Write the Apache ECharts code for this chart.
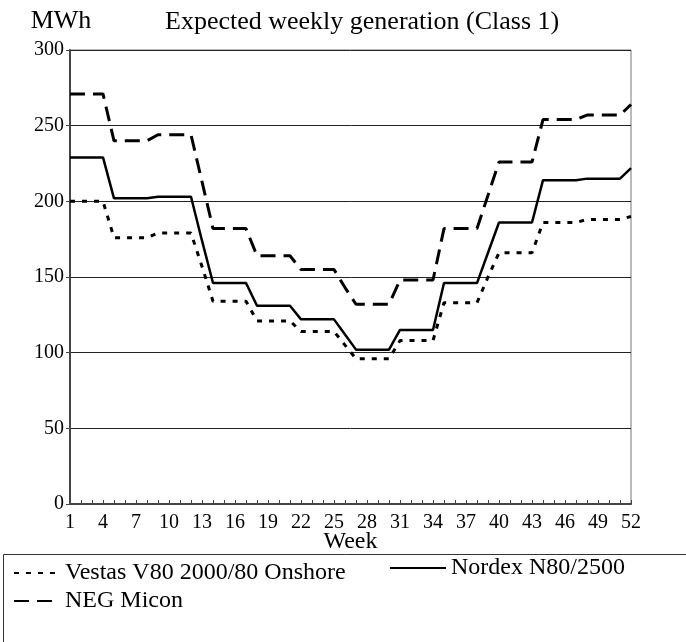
<!DOCTYPE html>
<html>
<head>
<meta charset="utf-8">
<script src="https://cdn.jsdelivr.net/npm/echarts@6/dist/echarts.min.js"></script>
<style>
  html, body { margin: 0; padding: 0; background: #fff; }
  #main { width: 686px; height: 642px; }
</style>
</head>
<body>
<div id="main"></div>
<script>
// weekly expected generation, MWh
var weeks = ['1', '2', '3', '4', '5', '6', '7', '8', '9', '10', '11', '12', '13',
  '14', '15', '16', '17', '18', '19', '20', '21', '22', '23', '24', '25', '26',
  '27', '28', '29', '30', '31', '32', '33', '34', '35', '36', '37', '38', '39',
  '40', '41', '42', '43', '44', '45', '46', '47', '48', '49', '50', '51', '52']

var vestas = [200, 200, 200, 200, 176, 176, 176, 176, 179, 179, 179, 179, 157,
  134, 134, 134, 134, 121, 121, 121, 121, 114, 114, 114, 114, 105,
  96, 96, 96, 96, 108, 108, 108, 108, 133, 133, 133, 133, 150,
  166, 166, 166, 166, 186, 186, 186, 186, 188, 188, 188, 188, 190]

var nordex = [229, 229, 229, 229, 202, 202, 202, 202, 203, 203, 203, 203, 174,
  146, 146, 146, 146, 131, 131, 131, 131, 122, 122, 122, 122, 112,
  102, 102, 102, 102, 115, 115, 115, 115, 146, 146, 146, 146, 166,
  186, 186, 186, 186, 214, 214, 214, 214, 215, 215, 215, 215, 222]

var negMicon = [271, 271, 271, 271, 240, 240, 240, 240, 244, 244, 244, 244, 213,
  182, 182, 182, 182, 164, 164, 164, 164, 155, 155, 155, 155, 143,
  132, 132, 132, 132, 148, 148, 148, 148, 182, 182, 182, 182, 204,
  226, 226, 226, 226, 254, 254, 254, 254, 257, 257, 257, 257, 264]

var seriesNames = ['Vestas V80 2000/80 Onshore', 'Nordex N80/2500', 'NEG Micon']

var serif = 'Liberation Serif'
var chart = echarts.init(document.getElementById('main'), null, { renderer: 'canvas' })

var legendText = { fontFamily: serif, fontSize: 24, color: '#000' }

var option = {
  backgroundColor: '#ffffff',
  animation: false,
  textStyle: { fontFamily: serif, color: '#000' },
  title: {
    text: 'Expected weekly generation (Class 1)',
    left: 160,
    top: 4,
    textStyle: { fontFamily: serif, fontWeight: 'normal', fontSize: 26, color: '#000' }
  },
  grid: {
    left: 70,
    right: 55,
    top: 50,
    bottom: 138,
    show: true,
    borderColor: '#777',
    borderWidth: 1
  },
  legend: [
    {
      orient: 'vertical',
      left: 8,
      top: 556,
      itemWidth: 46,
      itemHeight: 14,
      itemGap: 4,
      itemStyle: { opacity: 0 },
      data: [seriesNames[0], seriesNames[2]],
      textStyle: legendText
    },
    {
      left: 384,
      top: 551,
      itemWidth: 56,
      itemHeight: 14,
      itemStyle: { opacity: 0 },
      data: [seriesNames[1]],
      textStyle: legendText
    }
  ],
  graphic: [{
    // legend frame, runs off the page on right and bottom
    type: 'rect',
    left: 1,
    top: 552,
    shape: { width: 720, height: 120 },
    style: { fill: 'none', stroke: '#333', lineWidth: 1 }
  }],
  xAxis: {
    type: 'category',
    data: weeks,
    boundaryGap: false,
    name: 'Week',
    nameLocation: 'middle',
    nameGap: 26,
    nameMoveOverlap: false,
    nameTextStyle: { fontFamily: serif, fontSize: 24, color: '#000' },
    axisLine: { lineStyle: { color: '#444', width: 2 } },
    axisTick: { show: true, inside: true, length: 4, interval: 0, lineStyle: { color: '#444' } },
    axisLabel: { interval: 2, margin: 9, fontFamily: serif, fontSize: 20, color: '#000' },
    splitLine: { show: false }
  },
  yAxis: {
    type: 'value',
    min: 0,
    max: 300,
    interval: 50,
    name: 'MWh',
    nameLocation: 'end',
    nameGap: 16,
    nameTextStyle: { fontFamily: serif, fontSize: 26, color: '#000', align: 'center', padding: [0, 18, 0, 0] },
    axisLine: { show: true, lineStyle: { color: '#444', width: 2 } },
    axisTick: { show: true, length: 4, lineStyle: { color: '#444' } },
    axisLabel: { margin: 6, fontFamily: serif, fontSize: 20, color: '#000' },
    splitLine: { show: true, lineStyle: { color: '#222', width: 1 } }
  },
  series: [
    {
      name: seriesNames[0],
      type: 'line',
      data: vestas,
      symbol: 'none',
      lineStyle: { color: '#000', width: 3, type: [5, 7] },
      itemStyle: { color: '#000' }
    },
    {
      name: seriesNames[1],
      type: 'line',
      data: nordex,
      symbol: 'none',
      lineStyle: { color: '#000', width: 2.5, type: 'solid' },
      itemStyle: { color: '#000' }
    },
    {
      name: seriesNames[2],
      type: 'line',
      data: negMicon,
      symbol: 'none',
      lineStyle: { color: '#000', width: 3, type: [15, 8] },
      itemStyle: { color: '#000' }
    }
  ]
}

chart.setOption(option)
</script>
</body>
</html>
